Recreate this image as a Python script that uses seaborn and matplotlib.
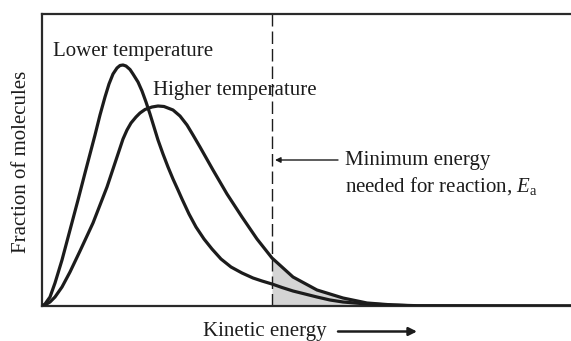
import matplotlib
matplotlib.use("Agg")
import matplotlib.pyplot as plt
import seaborn as sns
import pandas as pd

# ---- data (arbitrary units) ----
lower_energy = [0, 3, 8, 13, 20, 28, 36, 43, 48, 53, 58, 63, 67, 71, 75, 78, 81, 84, 88,
                91, 96, 100, 104, 108, 112, 116, 121, 126, 131, 136, 140, 147, 154, 162,
                170, 179, 189, 200, 211, 220, 230, 240, 251, 263, 275, 288, 301, 313, 325,
                351, 375, 529]
lower_fraction = [0, 2, 9, 23, 46, 76, 106, 133, 152, 171, 191, 209, 222, 232, 238, 240.5, 241, 240, 236.5,
                  232, 224, 215, 204, 192, 179, 166, 152, 139, 127, 116, 107, 92, 79, 67,
                  57, 47, 39, 33, 28, 25, 22, 18.5, 15, 12, 9, 6, 4, 3, 2,
                  1, 0, 0]

higher_energy = [0, 3, 8, 13, 20, 28, 38, 51, 65, 77, 81, 85, 89, 94, 98, 103, 110, 116, 122,
                 131, 138, 145, 151, 158, 171, 185, 200, 215, 230, 251, 275, 301, 325, 351,
                 375, 529]
higher_fraction = [0, 1, 4, 9, 19, 34, 55, 83, 119, 155, 167, 176, 183, 189, 193, 196.5, 199, 200, 199.5,
                   196, 190, 181, 171, 159, 136, 112, 89, 67, 48, 29, 16, 8, 3, 1,
                   0.3, 0]

activation_energy = 230

label_lower = "Lower temperature"
label_higher = "Higher temperature"
xlabel = "Kinetic energy"
ylabel = "Fraction of molecules"

df = pd.concat([
    pd.DataFrame({"energy": lower_energy, "fraction": lower_fraction, "temperature": "lower"}),
    pd.DataFrame({"energy": higher_energy, "fraction": higher_fraction, "temperature": "higher"}),
], ignore_index=True)

sns.set_style("white")
plt.rcParams["font.family"] = ["Liberation Serif", "DejaVu Serif"]
plt.rcParams["mathtext.fontset"] = "custom"
plt.rcParams["mathtext.rm"] = "Liberation Serif"
plt.rcParams["mathtext.it"] = "Liberation Serif:italic"

W, H = 571, 341
fig = plt.figure(figsize=(W / 100, H / 100), dpi=100)
ax = fig.add_axes([42 / W, 35 / H, (W - 42) / W, (306 - 14) / H])

ink = "#1c1c1c"

# shaded tail beyond Ea (under the higher-temperature curve)
tail_x = [activation_energy] + [e for e in higher_energy if e > activation_energy]
tail_y = [higher_fraction[higher_energy.index(activation_energy)]] + \
         [f for e, f in zip(higher_energy, higher_fraction) if e > activation_energy]
ax.fill_between(tail_x, 0, tail_y, color="#d4d4d4", lw=0, zorder=1)

sns.lineplot(data=df, x="energy", y="fraction", hue="temperature",
             palette={"lower": ink, "higher": ink}, legend=False,
             sort=False, estimator=None, lw=2.3, ax=ax, zorder=3)
for ln in ax.lines:
    ln.set_solid_joinstyle("round")

ax.axvline(activation_energy, color=ink, lw=1.0, dashes=(9, 3.6), zorder=2)

ax.set_xlim(0, 529)
ax.set_ylim(0, 292)
ax.set_xticks([])
ax.set_yticks([])
ax.set_xlabel("")
ax.set_ylabel("")
for side in ["left", "top", "bottom"]:
    ax.spines[side].set_visible(True)
    ax.spines[side].set_color("#2a2a2a")
    ax.spines[side].set_linewidth(1.6)
ax.spines["right"].set_visible(False)

fs = 15
def px(x, y):
    return x / W, 1 - y / H

fig.text(*px(53, 56), label_lower, fontsize=fs, ha="left", va="baseline", color=ink)
fig.text(*px(153, 95), label_higher, fontsize=fs, ha="left", va="baseline", color=ink)
fig.text(*px(345, 165), "Minimum energy", fontsize=fs, ha="left", va="baseline", color=ink)
fig.text(*px(345, 192), "needed for reaction, $E_{\\mathrm{a}}$", fontsize=fs, ha="left",
         va="baseline", color=ink)

fig.text(*px(203, 336), xlabel, fontsize=fs, ha="left", va="baseline", color=ink)
fig.text(*px(26, 161.5), ylabel, fontsize=fs, ha="center", va="baseline", rotation=90,
         rotation_mode="anchor", color=ink)

# annotation arrow toward the dashed Ea line
ax.annotate("", xy=(px(275, 160)), xycoords="figure fraction",
            xytext=(px(338, 160)), textcoords="figure fraction",
            arrowprops=dict(arrowstyle="-|>", color=ink, lw=1.0,
                            mutation_scale=8, shrinkA=0, shrinkB=0))
# arrow after the x label
ax.annotate("", xy=(px(417, 331.5)), xycoords="figure fraction",
            xytext=(px(338, 331.5)), textcoords="figure fraction",
            arrowprops=dict(arrowstyle="-|>", color=ink, lw=1.8,
                            mutation_scale=12, shrinkA=0, shrinkB=0),
            annotation_clip=False)

fig.savefig("out.png", dpi=100)
